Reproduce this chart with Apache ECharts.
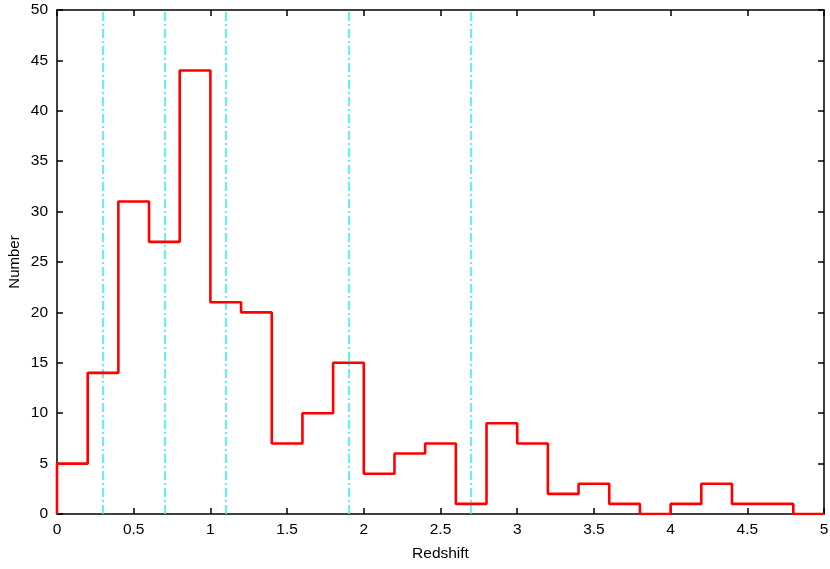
<!DOCTYPE html>
<html>
<head>
<meta charset="utf-8">
<script src="https://cdn.jsdelivr.net/npm/echarts@6/dist/echarts.min.js"></script>
<style>html,body{margin:0;padding:0;background:#fff;}#c{width:830px;height:569px;}</style>
</head>
<body>
<div id="c"></div>
<script>
const binStarts = [0, 0.2, 0.4, 0.6, 0.8, 1.0, 1.2, 1.4, 1.6, 1.8, 2.0, 2.2, 2.4, 2.6, 2.8, 3.0, 3.2, 3.4, 3.6, 3.8, 4.0, 4.2, 4.4, 4.6, 4.8];
const counts = [5, 14, 31, 27, 44, 21, 20, 7, 10, 15, 4, 6, 7, 1, 9, 7, 2, 3, 1, 0, 1, 3, 1, 1, 0];
const lastEdge = 5;
const markerLines = [0.3, 0.7, 1.1, 1.9, 2.7];

const stepData = [[binStarts[0], 0]];
binStarts.forEach((x, i) => stepData.push([x, counts[i]]));
stepData.push([lastEdge, counts[counts.length - 1]]);

const font = 'Liberation Sans, Arial, sans-serif';
const chart = echarts.init(document.getElementById('c'));
const axisCommon = {
  axisLine: { show: true, onZero: false, lineStyle: { color: '#000', width: 1.5 } },
  axisTick: { show: true, inside: true, length: 6, lineStyle: { color: '#000', width: 1.5 } },
  splitLine: { show: false }
};
chart.setOption({
  animation: false,
  grid: { left: 57, right: 6, top: 10, bottom: 55, containLabel: false, outerBoundsMode: 'none' },
  xAxis: [
    Object.assign({
      type: 'value', min: 0, max: 5, interval: 0.5,
      name: 'Redshift', nameLocation: 'middle', nameGap: 32, nameMoveOverlap: false,
      nameTextStyle: { color: '#000', fontSize: 15.5, fontFamily: font },
      axisLabel: { color: '#000', fontSize: 15.5, fontFamily: font, margin: 8 }
    }, axisCommon),
    Object.assign({
      type: 'value', min: 0, max: 5, interval: 0.5, position: 'top',
      axisLabel: { show: false }
    }, axisCommon)
  ],
  yAxis: [
    Object.assign({
      type: 'value', min: 0, max: 50, interval: 5,
      name: 'Number', nameLocation: 'middle', nameGap: 35, nameMoveOverlap: false,
      nameTextStyle: { color: '#000', fontSize: 15, fontFamily: font },
      axisLabel: { color: '#000', fontSize: 15.5, fontFamily: font, margin: 9 }
    }, axisCommon),
    Object.assign({
      type: 'value', min: 0, max: 50, interval: 5, position: 'right',
      axisLabel: { show: false }
    }, axisCommon)
  ],
  series: [
    {
      type: 'line', data: [], xAxisIndex: 0, yAxisIndex: 0,
      markLine: {
        silent: true, symbol: 'none', label: { show: false },
        lineStyle: { color: '#38f0f0', width: 1.6, type: [9, 3, 2, 3] },
        data: markerLines.map(v => ({ xAxis: v }))
      }
    },
    {
      type: 'line', data: stepData, step: 'end', showSymbol: false, symbol: 'none',
      xAxisIndex: 0, yAxisIndex: 0,
      lineStyle: { color: '#ff0000', width: 2.6 }, z: 5
    }
  ]
});
</script>
</body>
</html>
